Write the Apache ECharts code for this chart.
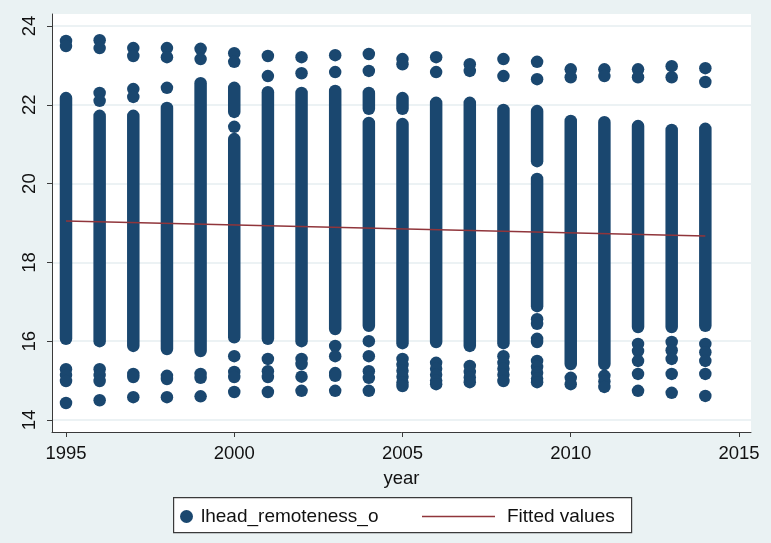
<!DOCTYPE html>
<html><head><meta charset="utf-8">
<script src="https://cdn.jsdelivr.net/npm/echarts@6/dist/echarts.min.js"></script>
<style>html,body{margin:0;padding:0;background:#eaf2f3}#c{width:771px;height:543px}</style>
</head><body><div id="c"></div>
<script>
// ---- data ----
const xTicks = [1995, 2000, 2005, 2010, 2015];
const yTicks = [14, 16, 18, 20, 22, 24];
// dense runs of overlapping observations: [year, lowest value, highest value]
const columnRanges = [
  [1995,16.06,22.17],
  [1996,16.0,21.72],
  [1997,15.88,21.72],
  [1998,15.8,21.92],
  [1999,15.75,22.55],
  [2000,21.82,22.43],[2000,16.1,21.13],
  [2001,16.06,22.32],
  [2002,16.0,22.3],
  [2003,16.31,22.35],
  [2004,21.9,22.3],[2004,16.39,21.54],
  [2005,21.9,22.17],[2005,15.95,21.51],
  [2006,15.98,22.05],
  [2007,15.88,22.05],
  [2008,15.95,21.87],
  [2009,20.57,21.84],[2009,16.89,20.12],
  [2010,15.42,21.59],
  [2011,15.42,21.56],
  [2012,16.36,21.46],
  [2013,16.36,21.36],
  [2014,16.39,21.39]
];
// separate observations: [year, value]
const dotPoints = [
  [1995,23.62],[1995,23.49],[1995,15.29],[1995,15.14],[1995,14.99],[1995,14.43],
  [1996,23.64],[1996,23.44],[1996,22.3],[1996,22.1],[1996,15.29],[1996,15.14],[1996,14.99],[1996,14.5],
  [1997,23.44],[1997,23.24],[1997,22.4],[1997,22.2],[1997,15.17],[1997,15.09],[1997,14.58],
  [1998,23.44],[1998,23.21],[1998,22.43],[1998,15.12],[1998,15.04],[1998,14.58],
  [1999,23.42],[1999,23.16],[1999,15.17],[1999,15.07],[1999,14.6],
  [2000,23.31],[2000,23.09],[2000,21.44],[2000,15.62],[2000,15.22],[2000,15.09],[2000,14.71],
  [2001,23.24],[2001,22.73],[2001,15.55],[2001,15.24],[2001,15.09],[2001,14.71],
  [2002,23.21],[2002,22.8],[2002,15.55],[2002,15.42],[2002,15.1],[2002,14.74],
  [2003,23.26],[2003,22.83],[2003,15.88],[2003,15.62],[2003,15.19],[2003,15.12],[2003,14.74],
  [2004,23.29],[2004,22.86],[2004,16.0],[2004,15.62],[2004,15.24],[2004,15.07],[2004,14.74],
  [2005,23.16],[2005,23.03],[2005,15.55],[2005,15.4],[2005,15.25],[2005,15.1],[2005,14.95],[2005,14.86],
  [2006,23.21],[2006,22.83],[2006,15.45],[2006,15.3],[2006,15.15],[2006,15.0],[2006,14.91],
  [2007,23.03],[2007,22.86],[2007,15.37],[2007,15.22],[2007,15.08],[2007,14.96],
  [2008,23.16],[2008,22.73],[2008,15.62],[2008,15.45],[2008,15.3],[2008,15.15],[2008,14.99],
  [2009,23.09],[2009,22.65],[2009,16.56],[2009,16.44],[2009,16.06],[2009,15.98],[2009,15.5],[2009,15.35],[2009,15.2],[2009,15.05],[2009,14.96],
  [2010,22.9],[2010,22.7],[2010,15.07],[2010,14.91],
  [2011,22.9],[2011,22.73],[2011,15.12],[2011,14.98],[2011,14.84],
  [2012,22.9],[2012,22.7],[2012,15.93],[2012,15.75],[2012,15.5],[2012,15.17],[2012,14.74],
  [2013,22.98],[2013,22.7],[2013,15.98],[2013,15.77],[2013,15.55],[2013,15.17],[2013,14.69],
  [2014,22.93],[2014,22.58],[2014,15.93],[2014,15.72],[2014,15.5],[2014,15.17],[2014,14.61]
];
const fitYears = [1995, 2014];
const fitValues = [19.05, 18.67];

// ---- styling ----
const NAVY = '#1a476f';
const MAROON = '#90353b';
const MARK = 12.5;
const FONT = '"Liberation Sans", Arial, Helvetica, sans-serif';
const TXT = '#111';

const chart = echarts.init(document.getElementById('c'), null, {renderer: 'canvas'});
chart.setOption({
  backgroundColor: '#eaf2f3',
  animation: false,
  textStyle: {fontFamily: FONT},
  grid: {left: 52, right: 20, top: 14, bottom: 111, show: true, backgroundColor: '#ffffff', borderWidth: 0},
  xAxis: {
    type: 'value', min: 1994.584, max: 2015.357,
    name: 'year', nameLocation: 'middle', nameGap: 37,
    nameTextStyle: {fontSize: 18.5, color: TXT, fontFamily: FONT},
    axisLine: {show: true, lineStyle: {color: '#3a3a3a', width: 1}},
    axisTick: {show: true, length: 5, inside: false, customValues: xTicks, lineStyle: {color: '#3a3a3a'}},
    axisLabel: {customValues: xTicks, fontSize: 18.5, color: TXT, margin: 12, fontFamily: FONT,
      formatter: function (v) { return String(Math.round(v)); }},
    splitLine: {show: false}
  },
  yAxis: {
    type: 'value', min: 13.695, max: 24.305,
    axisLine: {show: true, lineStyle: {color: '#3a3a3a', width: 1}},
    axisTick: {show: true, length: 5, inside: false, customValues: yTicks, lineStyle: {color: '#3a3a3a'}},
    axisLabel: {customValues: yTicks, fontSize: 18.5, color: TXT, margin: 13, rotate: 90, fontFamily: FONT,
      formatter: function (v) { return String(Math.round(v)); }},
    splitLine: {show: true, lineStyle: {color: '#e6eef0', width: 1.5}}
  },
  legend: [
    {
      data: [{name: 'lhead_remoteness_o', icon: 'circle'}],
      left: 180, top: 507, itemWidth: 13, itemHeight: 13, padding: 0,
      selectedMode: false,
      textStyle: {fontSize: 19, color: TXT, fontFamily: FONT, padding: [0, 0, 0, 3]}
    },
    {
      data: [{name: 'Fitted values', icon: 'rect', itemStyle: {color: MAROON}}],
      left: 422, top: 507, itemWidth: 73, itemHeight: 1.5, padding: 0,
      selectedMode: false,
      textStyle: {fontSize: 19, color: TXT, fontFamily: FONT, padding: [0, 0, 0, 7]}
    }
  ],
  graphic: [{
    type: 'rect', left: 173, top: 497, z: -1,
    shape: {width: 458, height: 35},
    style: {fill: '#ffffff', stroke: '#3a3a3a', lineWidth: 1.2}
  }],
  series: [
    {
      name: 'lhead_remoteness_o', type: 'scatter', symbol: 'circle', symbolSize: MARK,
      itemStyle: {color: NAVY, opacity: 1}, data: dotPoints, z: 2
    },
    {
      name: 'lhead_remoteness_o', type: 'custom', data: columnRanges, z: 2,
      encode: {x: 0, y: [1, 2]},
      itemStyle: {color: NAVY},
      renderItem: function (params, api) {
        const lo = api.coord([api.value(0), api.value(1)]);
        const hi = api.coord([api.value(0), api.value(2)]);
        const r = MARK / 2;
        return {
          type: 'rect',
          shape: {x: lo[0] - r, y: hi[1] - r, width: 2 * r, height: lo[1] - hi[1] + 2 * r, r: r},
          style: {fill: NAVY}
        };
      }
    },
    {
      name: 'Fitted values', type: 'line', symbol: 'none', z: 5,
      data: fitYears.map((y, i) => [y, fitValues[i]]),
      lineStyle: {color: MAROON, width: 1.5},
      itemStyle: {color: MAROON}
    }
  ]
});
</script>
</body></html>
